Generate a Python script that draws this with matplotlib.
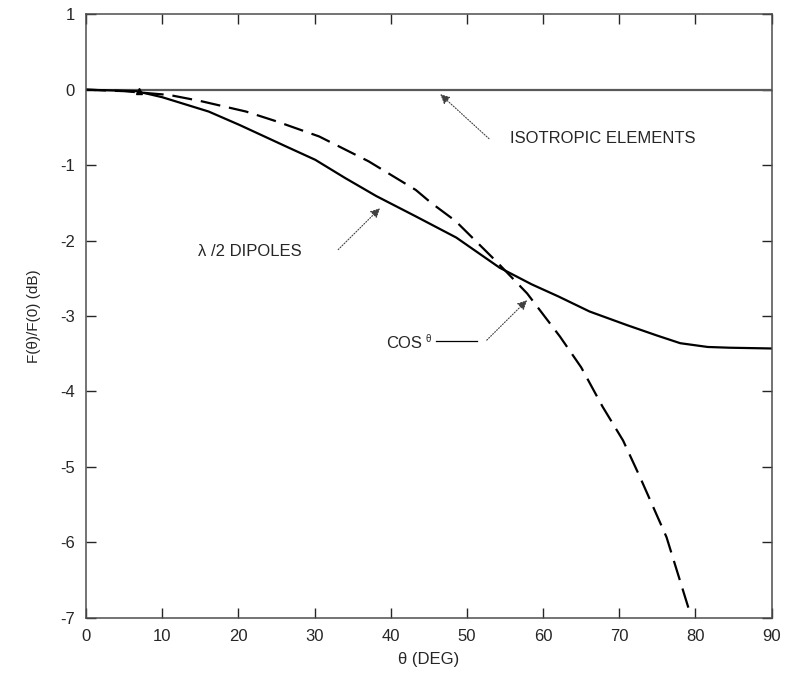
import matplotlib.pyplot as plt

plt.rcParams['font.family'] = ['Liberation Sans', 'DejaVu Sans']

# values
theta_dip = [0, 6.6, 10, 16.1, 20.2, 26.2, 30.1, 34, 38.1, 43.3, 48.6, 54.3, 58.5,
             62, 66.1, 71, 75, 78.0, 81.6, 84.5, 90]
gain_dip = [0, -0.02, -0.1, -0.29, -0.47, -0.75, -0.93, -1.17, -1.41, -1.68, -1.96,
            -2.36, -2.58, -2.74, -2.94, -3.12, -3.26, -3.36, -3.41, -3.42, -3.43]

theta_cos = [0, 5, 10.9, 15, 21, 25, 30.6, 37.1, 43.3, 45.3, 48.5, 53.9, 57.9, 62.2,
             65, 67.8, 70.5, 72.7, 76.2, 79.3]
gain_cos = [0, -0.02, -0.07, -0.15, -0.29, -0.42, -0.62, -0.95, -1.33, -1.5, -1.74,
            -2.28, -2.7, -3.27, -3.68, -4.2, -4.65, -5.13, -5.93, -6.94]

theta_iso = [0, 90]
gain_iso = [0, 0]

xticks = [0, 10, 20, 30, 40, 50, 60, 70, 80, 90]
yticks = [1, 0, -1, -2, -3, -4, -5, -6, -7]
ytick_labels = ['1', '0', '-1', '-2', '-3', '-4', '-5', '-6', '-7']

fig = plt.figure(figsize=(7.89, 6.76), dpi=100)
ax = fig.add_axes([0.109, 0.086, 0.869, 0.893])

ax.plot(theta_iso, gain_iso, color='0.35', lw=1.6)
ax.plot(theta_dip, gain_dip, color='black', lw=1.6)
ax.plot(theta_cos, gain_cos, color='black', lw=1.6, dashes=(9, 4))
ax.plot([7], [-0.02], marker='^', color='black', ms=5)

ax.set_xlim(0, 90)
ax.set_ylim(-7, 1)
ax.set_xticks(xticks)
ax.set_yticks(yticks)
ax.set_yticklabels(ytick_labels)
ax.tick_params(direction='in', top=True, right=True, length=7, width=1,
               labelsize=12, pad=8, colors='0.15')
for s in ax.spines.values():
    s.set_color('0.3')
    s.set_linewidth(1.1)

ax.set_xlabel('θ (DEG)', fontsize=12, labelpad=6, color='0.15')
ax.set_ylabel('F(θ)/F(0) (dB)', fontsize=11, labelpad=14, color='0.15')

arrow = dict(arrowstyle='-|>', color='0.25', lw=0.8, linestyle=(0, (1, 1.5)),
             mutation_scale=14, shrinkA=0, shrinkB=0)

ax.annotate('', xy=(46.5, -0.06), xytext=(52.9, -0.65), arrowprops=arrow)
ax.text(55.6, -0.65, 'ISOTROPIC ELEMENTS', fontsize=12, va='center', ha='left',
        color='0.15')

ax.annotate('', xy=(38.6, -1.57), xytext=(33.1, -2.12), arrowprops=arrow)
ax.text(14.7, -2.15, 'λ /2 DIPOLES', fontsize=12, va='center', ha='left', color='0.15')

ax.annotate('', xy=(57.9, -2.79), xytext=(52.6, -3.32), arrowprops=arrow)
ax.plot([46.0, 51.3], [-3.33, -3.33], color='black', lw=0.9)
ax.text(39.4, -3.36, 'COS', fontsize=12, va='center', ha='left', color='0.15')
ax.text(44.6, -3.31, 'θ', fontsize=7, va='center', ha='left', color='0.15')

fig.savefig('out.png', dpi=100)
